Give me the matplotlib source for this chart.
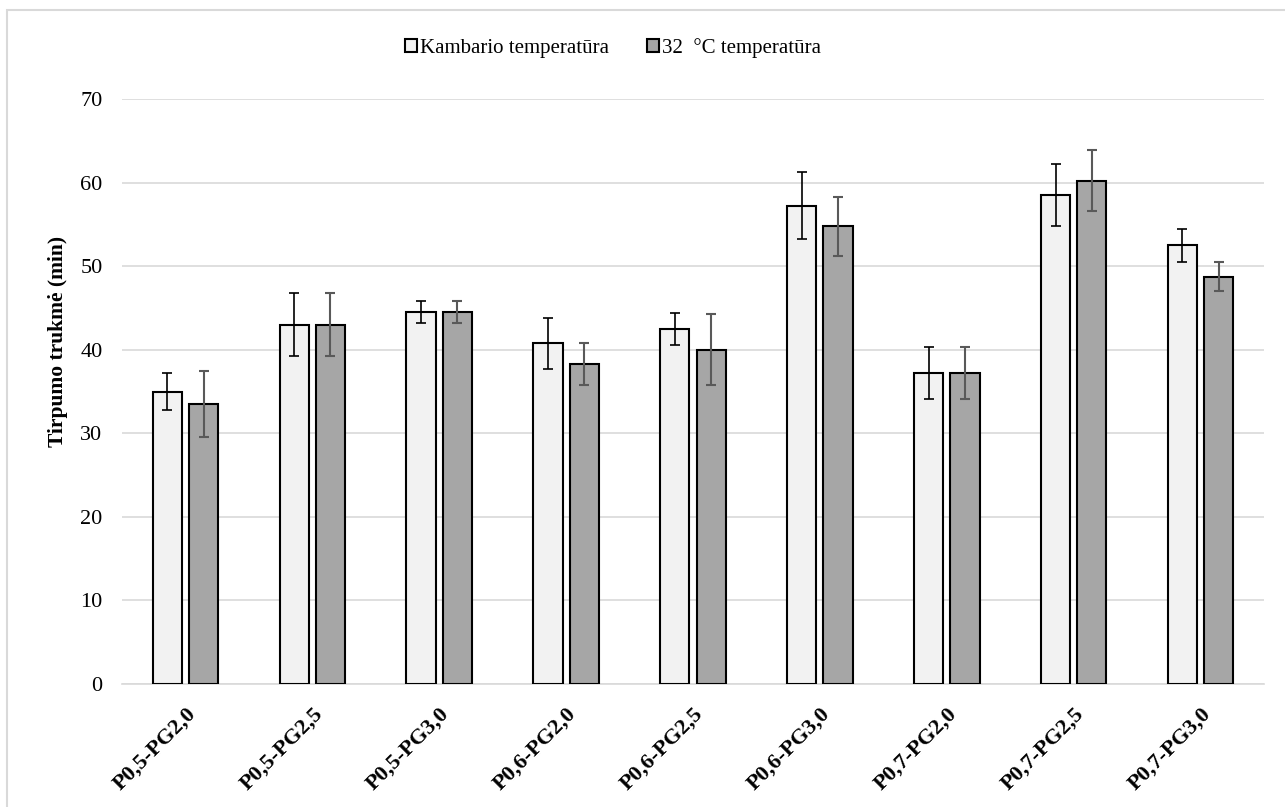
import numpy as np
import matplotlib.pyplot as plt
from matplotlib.patches import Rectangle

# Data
categories = ['P0,5-PG2,0', 'P0,5-PG2,5', 'P0,5-PG3,0', 'P0,6-PG2,0', 'P0,6-PG2,5',
              'P0,6-PG3,0', 'P0,7-PG2,0', 'P0,7-PG2,5', 'P0,7-PG3,0']
room_temp = [35.0, 43.0, 44.5, 40.75, 42.5, 57.25, 37.25, 58.5, 52.5]
room_err = [2.2, 3.75, 1.3, 3.0, 1.9, 4.0, 3.1, 3.7, 1.95]
temp_32 = [33.5, 43.0, 44.5, 38.25, 40.0, 54.75, 37.25, 60.25, 48.75]
temp_32_err = [3.9, 3.75, 1.3, 2.5, 4.25, 3.5, 3.1, 3.7, 1.75]
series_labels = ['Kambario temperatūra', '32  °C temperatūra']

plt.rcParams['font.family'] = ['Liberation Serif', 'DejaVu Serif']

fig = plt.figure(figsize=(12.85, 8.07), dpi=100)
ax = fig.add_axes([0.0949, 0.1524, 0.8888, 0.7249])

# Outer chart border (runs off the right and bottom edges)
border_top = 1 - 10 / 807
fig.patches.append(Rectangle((7 / 1285, -0.05), 1.1, border_top + 0.05,
                             transform=fig.transFigure, fill=False,
                             edgecolor='#D9D9D9', linewidth=1.5))

x = np.arange(len(categories))
width = 0.23
offset = 0.143

ax.bar(x - offset, room_temp, width, color='#F2F2F2', edgecolor='black',
       linewidth=1.5, label=series_labels[0], zorder=3)
ax.bar(x + offset, temp_32, width, color='#A6A6A6', edgecolor='black',
       linewidth=1.5, label=series_labels[1], zorder=3)
ax.errorbar(x - offset, room_temp, yerr=room_err, fmt='none', ecolor='black',
            elinewidth=1.2, capsize=3.6, capthick=1.2, zorder=4)
ax.errorbar(x + offset, temp_32, yerr=temp_32_err, fmt='none', ecolor='#595959',
            elinewidth=1.5, capsize=3.6, capthick=1.5, zorder=4)

ax.set_xlim(-0.5, len(categories) - 0.5)
ax.set_ylim(0, 70)
ax.set_yticks(range(0, 71, 10))
ax.yaxis.grid(True, color='#D9D9D9', linewidth=1.2, zorder=0)
ax.set_axisbelow(True)
for side in ['top', 'right', 'left']:
    ax.spines[side].set_visible(False)
ax.spines['bottom'].set_color('#D9D9D9')
ax.spines['bottom'].set_linewidth(1.2)
ax.tick_params(axis='both', length=0, colors='black')
ax.tick_params(axis='y', labelsize=16, pad=14)
ax.tick_params(axis='x', pad=14)

ax.set_xticks(x)
ax.set_xticklabels(categories, rotation=45, ha='right', rotation_mode='anchor',
                   fontweight='bold', fontsize=16)
ax.set_ylabel('Tirpumo trukmė (min)', fontweight='bold', fontsize=15.5)
ax.yaxis.set_label_coords(-0.047, 0.586)

ax.legend(loc='center', bbox_to_anchor=(0.43, 1.087), ncol=2, frameon=False,
          fontsize=15, handlelength=0.6, handleheight=0.6, handletextpad=0.15,
          columnspacing=1.8)

plt.savefig('out.png', dpi=100)
